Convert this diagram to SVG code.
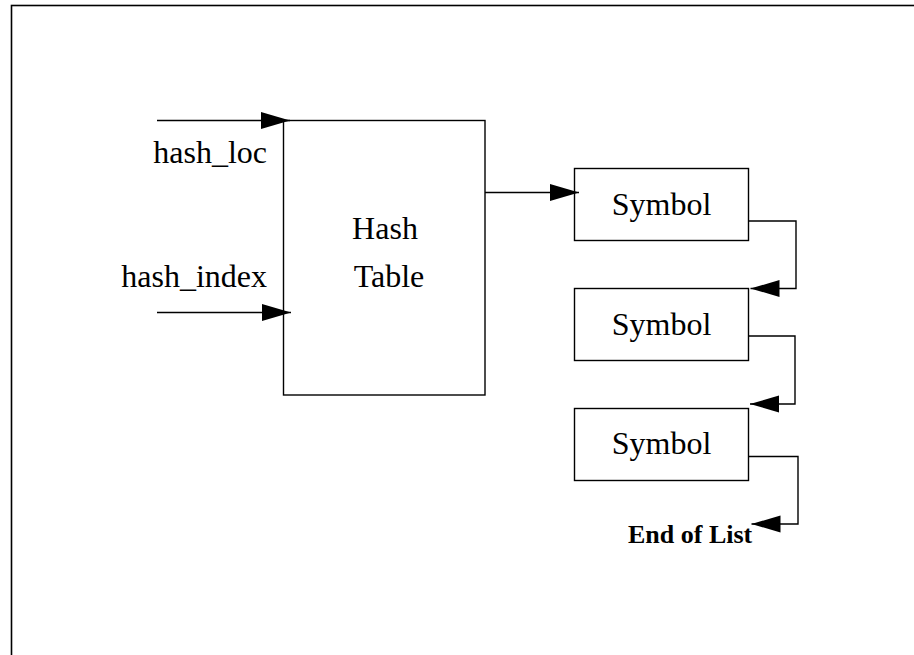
<svg xmlns="http://www.w3.org/2000/svg" width="914" height="655" viewBox="0 0 914 655">
<style>
.box{fill:#fff;stroke:#000;stroke-width:1.4}
.ln{fill:none;stroke:#000;stroke-width:1.4}
.t{font-family:"Liberation Serif","Times New Roman",serif;font-size:32px;fill:#000}
.b{font-family:"Liberation Serif","Times New Roman",serif;font-size:26px;font-weight:bold;fill:#000}
</style>
<defs>
<marker id="ah" markerUnits="userSpaceOnUse" markerWidth="30" markerHeight="18" refX="29" refY="8.5" orient="auto">
<path d="M0,0 L29,8.5 L0,17 z" fill="#000"/>
</marker>
</defs>
<rect x="11.5" y="5.5" width="912" height="660" fill="#fff" stroke="#000" stroke-width="1.6"/>
<g id="hash_table">
<rect class="box" x="283.5" y="120.5" width="201.5" height="274.5"/>
<text class="t" x="385" y="239" text-anchor="middle">Hash</text>
<text class="t" x="389" y="287" text-anchor="middle">Table</text>
</g>
<g id="symbol1">
<rect class="box" x="574.5" y="168.5" width="174" height="72"/>
<text class="t" x="661.5" y="215" text-anchor="middle">Symbol</text>
</g>
<g id="symbol2">
<rect class="box" x="574.5" y="288.5" width="174" height="72"/>
<text class="t" x="661.5" y="335" text-anchor="middle">Symbol</text>
</g>
<g id="symbol3">
<rect class="box" x="574.5" y="408.5" width="174" height="72"/>
<text class="t" x="661.5" y="454" text-anchor="middle">Symbol</text>
</g>
<g id="labels">
<text class="t" x="267" y="163" text-anchor="end">hash_loc</text>
<text class="t" x="267" y="287" text-anchor="end">hash_index</text>
<text class="b" x="628" y="543">End of List</text>
</g>
<g id="connectors">
<path class="ln" d="M157,120.5 H290" marker-end="url(#ah)"/>
<path class="ln" d="M157,312.5 H291" marker-end="url(#ah)"/>
<path class="ln" d="M485,192.5 H579" marker-end="url(#ah)"/>
<path class="ln" d="M748.5,221 H796 V288.5 H750.5" marker-end="url(#ah)"/>
<path class="ln" d="M748.5,336 H795 V404 H750" marker-end="url(#ah)"/>
<path class="ln" d="M748.5,456.5 H798 V524 H751.5" marker-end="url(#ah)"/>
</g>
</svg>
